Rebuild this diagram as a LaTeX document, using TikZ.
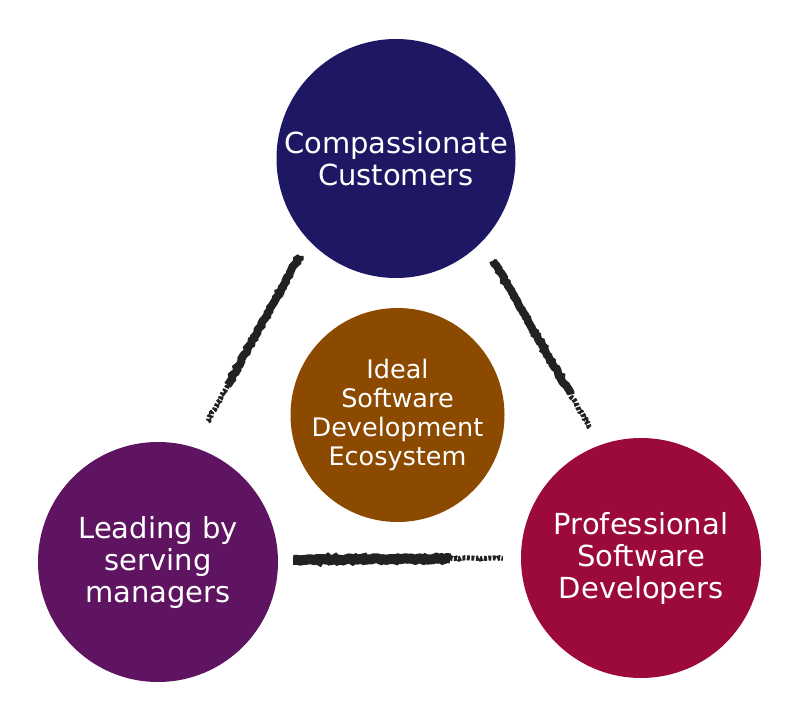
\documentclass[tikz,border=0pt]{standalone}
\usepackage{fontspec}
\setmainfont{DejaVu Sans}
\usetikzlibrary{calc,decorations.pathmorphing}
\definecolor{custblue}{RGB}{30,23,100}
\definecolor{ecobrown}{RGB}{139,74,0}
\definecolor{leadpurple}{RGB}{94,20,96}
\definecolor{devred}{RGB}{155,10,58}
\definecolor{chalkgrey}{RGB}{34,34,34}
\begin{document}
\begin{tikzpicture}[x=1pt,y=1pt]
\tikzstyle{every node}+=[inner sep=0pt]
\tikzstyle{ball}=[circle, text=white, align=center, font=\fontsize{29}{32}\selectfont]
\tikzstyle{chalk}=[draw=chalkgrey, line width=8pt, decorate, decoration={random steps, segment length=2.5pt, amplitude=1pt}]
\tikzstyle{wisp}=[draw=chalkgrey, line width=5pt, dash pattern=on 3pt off 1.5pt, decorate, decoration={random steps, segment length=2pt, amplitude=0.8pt}]
\useasboundingbox (0,0) rectangle (800,716);
\node [ball, fill=custblue, minimum size=239pt] (cust) at (396,557.5) {Compassionate\\Customers};
\node [ball, fill=leadpurple, minimum size=240pt] (lead) at (158,154) {Leading by\\serving\\managers};
\node [ball, fill=devred, minimum size=240pt] (dev) at (641,158) {Professional\\Software\\Developers};
\node [ball, fill=ecobrown, minimum size=214pt, font=\fontsize{25.5}{29}\selectfont] (eco) at (397.5,301) {Ideal\\Software\\Development\\Ecosystem};
\coordinate (cl1) at ($(cust.223)!18pt!(lead.73)$);
\coordinate (cl2) at ($(lead.73)!29pt!(cust.223)$);
\coordinate (cd1) at ($(cust.316)!22pt!(dev.110)$);
\coordinate (cd2) at ($(dev.110)!20pt!(cust.316)$);
\coordinate (ld1) at ($(lead.1)!15pt!(dev.180)$);
\coordinate (ld2) at ($(dev.180)!18pt!(lead.1)$);
\draw [chalk] (cl1) -- ($(cl1)!0.78!(cl2)$);
\draw [wisp] (cl1) -- (cl2);
\draw [chalk] (cd1) -- ($(cd1)!0.8!(cd2)$);
\draw [wisp] (cd1) -- (cd2);
\draw [chalk, line width=10pt] (ld1) -- ($(ld1)!0.75!(ld2)$);
\draw [wisp] (ld1) -- (ld2);
\end{tikzpicture}
\end{document}
